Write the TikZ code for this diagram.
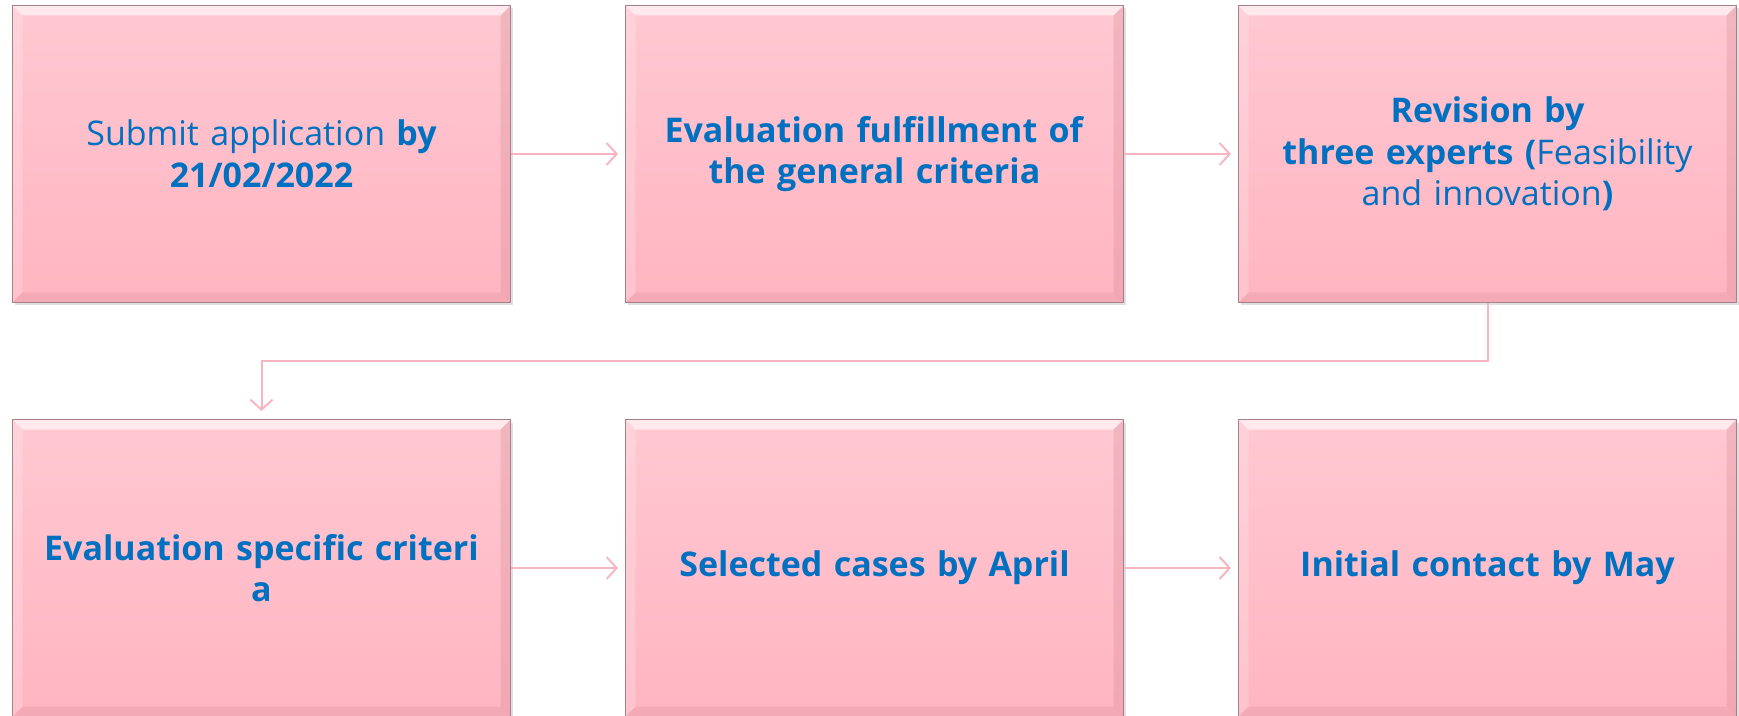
\documentclass[tikz,border=0pt]{standalone}
\usepackage{fontspec}
\setmainfont{Open Sans}
\usepackage{xcolor}
\usepackage{tikz}
\usetikzlibrary{positioning, arrows.meta, shadows}

\definecolor{pinktop}{HTML}{FFC8D2}
\definecolor{pinkbottom}{HTML}{FFB5C1}
\definecolor{pinkedge}{HTML}{A8808A}
\definecolor{pinkdark}{HTML}{C9808D}
\definecolor{textblue}{HTML}{0070C0}
\definecolor{arrowpink}{HTML}{F6B5C1}

\tikzstyle{stage} = [rectangle, minimum width=249pt, minimum height=148.5pt, inner sep=0pt,
    text width=235pt, align=center, top color=pinktop, bottom color=pinkbottom,
    draw=pinkedge, line width=0.5pt, text=textblue, font=\fontsize{17}{20.8}\selectfont,
    drop shadow={shadow xshift=1pt, shadow yshift=-1.5pt, opacity=0.25},
    path picture={
        \fill[white, opacity=0.6] (path picture bounding box.north west) -- (path picture bounding box.north east)
            -- ([shift={(-5pt,-5pt)}]path picture bounding box.north east) -- ([shift={(5pt,-5pt)}]path picture bounding box.north west) -- cycle;
        \fill[white, opacity=0.2] (path picture bounding box.north west) -- (path picture bounding box.south west)
            -- ([shift={(5pt,5pt)}]path picture bounding box.south west) -- ([shift={(5pt,-5pt)}]path picture bounding box.north west) -- cycle;
        \fill[pinkdark, opacity=0.2] (path picture bounding box.south west) -- (path picture bounding box.south east)
            -- ([shift={(-5pt,5pt)}]path picture bounding box.south east) -- ([shift={(5pt,5pt)}]path picture bounding box.south west) -- cycle;
        \fill[pinkdark, opacity=0.25] (path picture bounding box.north east) -- (path picture bounding box.south east)
            -- ([shift={(-5pt,5pt)}]path picture bounding box.south east) -- ([shift={(-5pt,-5pt)}]path picture bounding box.north east) -- cycle;
    }]
\tikzstyle{arrow} = [draw=arrowpink, line width=1pt, -{Straight Barb[length=5pt, width=11pt]}, shorten >=3.5pt]

\begin{document}
\begin{tikzpicture}
        \useasboundingbox (0,0) rectangle (869.5pt,-358pt);
        % First row
        \node[stage, anchor=north west] (submit) at (6pt,-2.5pt) {Submit application \textbf{by}\\ \textbf{21/02/2022}};
        \node[stage, right=57pt of submit] (general) {\textbf{Evaluation fulfillment of}\\ \textbf{the general criteria}};
        \node[stage, right=57pt of general] (experts) {\textbf{Revision by}\\ \textbf{three experts (}Feasibility\\ and innovation\textbf{)}};
        % Second row
        \node[stage, below=58pt of submit] (specific) {\textbf{Evaluation specific criteri}\\ \textbf{a}};
        \node[stage, right=57pt of specific] (selected) {\textbf{Selected cases by April}};
        \node[stage, right=57pt of selected] (contact) {\textbf{Initial contact by May}};
        % Connectors
        \draw[arrow] (submit) -- (general);
        \draw[arrow] (general) -- (experts);
        \draw[arrow, shorten >=4pt] (experts.south) -- ++(0,-29pt) -| (specific.north);
        \draw[arrow] (specific) -- (selected);
        \draw[arrow] (selected) -- (contact);
\end{tikzpicture}
\end{document}
